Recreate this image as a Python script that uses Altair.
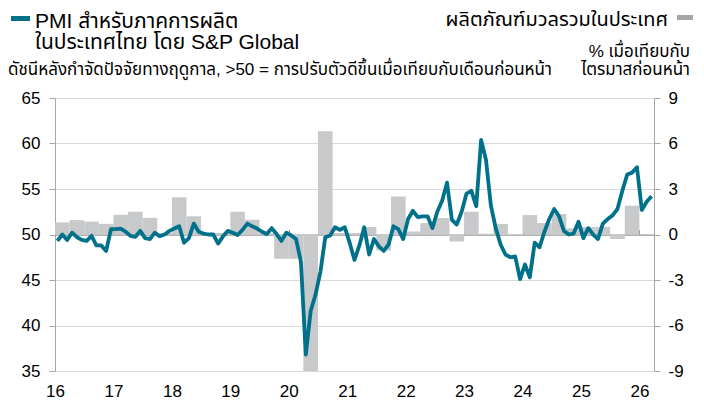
import altair as alt
import pandas as pd

FONT = "Liberation Sans, Arial, Noto Sans Thai, Tahoma, sans-serif"

# ---- data ----
pmi_2016 = [49.3, 50.0, 49.4, 50.2, 49.7, 49.4, 49.3, 49.85, 48.8, 48.8, 48.2, 50.6]
pmi_2017 = [50.6, 50.65, 50.3, 49.85, 49.75, 50.4, 49.6, 49.5, 50.2, 49.8, 50.0, 50.4]
pmi_2018 = [50.65, 50.9, 49.1, 49.6, 51.2, 50.3, 50.1, 50.0, 50.0, 49.0, 49.8, 50.4]
pmi_2019 = [50.2, 49.95, 50.5, 51.2, 50.9, 50.65, 50.3, 50.05, 50.7, 50.05, 49.3, 50.2]
pmi_2020 = [49.9, 49.5, 47.0, 36.8, 41.6, 43.4, 45.9, 49.7, 49.9, 50.8, 50.5, 50.8]
pmi_2021 = [49.1, 47.2, 48.8, 50.8, 47.8, 49.5, 48.7, 48.2, 48.9, 50.9, 50.6, 49.5]
pmi_2022 = [51.7, 52.6, 51.9, 52.0, 52.0, 50.7, 52.5, 53.7, 55.7, 51.6, 51.1, 52.5]
pmi_2023 = [54.5, 54.8, 53.1, 60.4, 58.2, 53.2, 50.7, 48.9, 47.8, 47.5, 47.6, 45.1]
pmi_2024 = [46.7, 45.3, 49.1, 48.6, 50.3, 51.7, 52.8, 52.0, 50.4, 50.0, 50.1, 51.4]
pmi_2025 = [49.6, 50.7, 50.0, 49.5, 51.2, 51.7, 52.1, 52.8, 54.8, 56.6, 56.8, 57.4]
pmi_2026 = [52.7, 53.6, 54.2]

gdp_2016 = [0.8, 0.95, 0.85, 0.7]
gdp_2017 = [1.3, 1.5, 1.1, 0.1]
gdp_2018 = [2.45, 1.2, 0.1, 0.1]
gdp_2019 = [1.5, 0.97, 0.1, -1.6]
gdp_2020 = [-1.6, -9.7, 6.8, 0.1]
gdp_2021 = [0.1, 0.5, -1.05, 2.5]
gdp_2022 = [0.2, 0.75, 1.08, -0.46]
gdp_2023 = [1.5, 0.05, 0.7, -0.05]
gdp_2024 = [1.28, 0.75, 1.35, 0.42]
gdp_2025 = [0.5, 0.5, -0.3, 1.9]

tick_years = [2016, 2017, 2018, 2019, 2020, 2021, 2022, 2023, 2024, 2025, 2026]
left_ticks = [35, 40, 45, 50, 55, 60, 65]
right_ticks = [-9, -6, -3, 0, 3, 6, 9]

title_l1 = "PMI สำหรับภาคการผลิต"
title_l2 = "ในประเทศไทย โดย S&P Global"
subtitle_l = "ดัชนีหลังกำจัดปัจจัยทางฤดูกาล, >50 = การปรับตัวดีขึ้นเมื่อเทียบกับเดือนก่อนหน้า"
title_r = "ผลิตภัณฑ์มวลรวมในประเทศ"
subtitle_r1 = "% เมื่อเทียบกับ"
subtitle_r2 = "ไตรมาสก่อนหน้า"

# ---- tables ----
pmi_values = (pmi_2016 + pmi_2017 + pmi_2018 + pmi_2019 + pmi_2020 + pmi_2021
              + pmi_2022 + pmi_2023 + pmi_2024 + pmi_2025 + pmi_2026)
pmi_df = pd.DataFrame({
    "t": [2016 + (i + 0.5) / 12 for i in range(len(pmi_values))],
    "pmi": pmi_values,
})
gdp_values = (gdp_2016 + gdp_2017 + gdp_2018 + gdp_2019 + gdp_2020 + gdp_2021
              + gdp_2022 + gdp_2023 + gdp_2024 + gdp_2025)
gdp_df = pd.DataFrame({
    "t0": [2016 + i / 4 for i in range(len(gdp_values))],
    "t1": [2016 + (i + 1) / 4 for i in range(len(gdp_values))],
    "gdp": gdp_values,
})

TEAL = "#00718B"
GREY_BAR = "#C8C9CB"
AX = "#A6A6A6"

xscale = alt.Scale(domain=[2016, 2026.25], nice=False, zero=False)

bars = alt.Chart(gdp_df).mark_bar(color=GREY_BAR, clip=True).encode(
    x=alt.X("t0:Q", scale=xscale,
            axis=alt.Axis(values=tick_years, labelExpr="substring(toString(datum.value), 2)",
                          ticks=False, domain=False, grid=False, labelFontSize=17,
                          labelPadding=12, labelFlush=False, labelOverlap=False,
                          labelFont=FONT, labelColor="#000000", title=None)),
    x2="t1:Q",
    y=alt.Y("gdp:Q", scale=alt.Scale(domain=[-9, 9], nice=False, zero=False),
            axis=alt.Axis(orient="right", values=right_ticks, grid=False,
                          labelExpr="toString(datum.value)",
                          domainColor=AX, tickColor=AX, tickSize=6, labelFontSize=17,
                          labelPadding=8, labelFont=FONT, labelColor="#000000", title=None)),
    y2=alt.datum(0),
)

line = alt.Chart(pmi_df).mark_line(color=TEAL, strokeWidth=3.8, strokeJoin="round").encode(
    x=alt.X("t:Q", scale=xscale,
            axis=alt.Axis(values=tick_years, labels=False, grid=False, offset=-136.5,
                          domainColor="#8C8C8C", tickColor="#8C8C8C", tickSize=5,
                          title=None)),
    y=alt.Y("pmi:Q", scale=alt.Scale(domain=[35, 65], nice=False, zero=False),
            axis=alt.Axis(orient="left", values=left_ticks, grid=True, gridColor="#D9D9D9",
                          domainColor=AX, tickColor=AX, tickSize=6, labelFontSize=17,
                          labelPadding=9, labelFont=FONT, labelColor="#000000", title=None)),
)


def txt(s, x, y, size, align="left", color="#000000"):
    return alt.Chart(pd.DataFrame({"label": [s]})).mark_text(
        align=align, baseline="alphabetic", fontSize=size, font=FONT, color=color
    ).encode(x=alt.value(x), y=alt.value(y), text="label:N")


def swatch(x, x2, y, y2, color):
    return alt.Chart(pd.DataFrame({"k": [0]})).mark_rect(color=color).encode(
        x=alt.value(x), x2=alt.value(x2), y=alt.value(y), y2=alt.value(y2)
    )


texts = [
    txt(title_l1, -20, -70, 21),
    txt(title_l2, -20, -49, 21),
    txt(subtitle_l, -47, -23, 17),
    txt(title_r, 613, -72, 20, align="right"),
    txt(subtitle_r1, 635, -41, 17, align="right"),
    txt(subtitle_r2, 635, -23, 17, align="right"),
    swatch(-44, -25, -82, -77, TEAL),
    swatch(622, 638, -83, -78, "#A6A6A6"),
]

chart = alt.layer(bars, line, *texts).resolve_scale(y="independent").resolve_axis(
    x="independent", y="independent"
).properties(
    width=599, height=273,
    autosize=alt.AutoSizeParams(type="none"),
    padding={"left": 55, "top": 98, "right": 50, "bottom": 35},
    background="white",
).configure_view(stroke=None)

chart.save("out.html", embed_options={"renderer": "svg", "actions": False})
